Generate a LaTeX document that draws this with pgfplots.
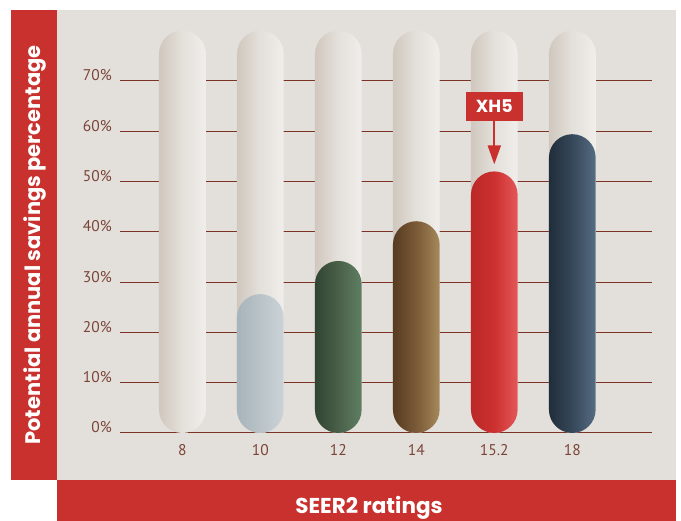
\documentclass[border=0pt]{standalone}
\usepackage{fontspec}
\setmainfont{PT Sans}
\newfontfamily\titlefont{Poppins}
\usepackage{pgfplots}
\pgfplotsset{compat=1.18}
\usetikzlibrary{arrows.meta}
\definecolor{bandred}{HTML}{C8312D}
\definecolor{bggray}{HTML}{E3E0DC}
\definecolor{gridbrown}{HTML}{7A3324}
\definecolor{tickbrown}{HTML}{7B4437}
\definecolor{pillL}{HTML}{D0C8BE}
\definecolor{pillM}{HTML}{E4E0DB}
\definecolor{pillR}{HTML}{F0EEEB}
\definecolor{blueL}{HTML}{A8B4BB}
\definecolor{blueM}{HTML}{B9C3C8}
\definecolor{blueR}{HTML}{CBD3D7}
\definecolor{greenL}{HTML}{314433}
\definecolor{greenM}{HTML}{4A6048}
\definecolor{greenR}{HTML}{5F7F63}
\definecolor{brownL}{HTML}{573C21}
\definecolor{brownM}{HTML}{7A5A37}
\definecolor{brownR}{HTML}{A6895B}
\definecolor{redL}{HTML}{BB2828}
\definecolor{redM}{HTML}{CD3030}
\definecolor{redR}{HTML}{E45858}
\definecolor{navyL}{HTML}{202D3A}
\definecolor{navyM}{HTML}{36485A}
\definecolor{navyR}{HTML}{566C82}
\pgfplotsset{
  pill/.style n args={3}{ybar, bar width=46.7bp, bar shift=0pt, draw=none,
    left color=#1, right color=#3, middle color=#2, rounded corners=23.35bp},
  bgpill/.style={pill={pillL}{pillM}{pillR}},
}
\begin{document}
\begin{tikzpicture}[x=1bp,y=1bp]
\fill[white] (0,0) rectangle (681,521);
\fill[bggray] (57,41) rectangle (676,511);
\fill[bandred] (11,41) rectangle (57,511);
\fill[bandred] (57,0) rectangle (676,41);
\node[anchor=base, rotate=90, text=white, inner sep=0pt,
      font=\titlefont\bfseries\fontsize{21bp}{24bp}\selectfont]
      at (40.5,276) {Potential annual savings percentage};
\node[anchor=base, text=white, inner sep=0pt,
      font=\titlefont\bfseries\fontsize{21.5bp}{24bp}\selectfont]
      at (369,7.5) {SEER2 ratings};
\begin{axis}[
  at={(120bp,88bp)}, anchor=south west,
  scale only axis, width=532bp, height=412.5bp,
  xmin=-0.799, xmax=6.022, ymin=0, ymax=82,
  axis line style={draw=none}, major tick length=0pt,
  xtick={0,1,2,3,4,5}, xticklabels={8,10,12,14,15.2,18},
  ytick={0,10,20,30,40,50,60,70},
  yticklabels={0\%,10\%,20\%,30\%,40\%,50\%,60\%,70\%},
  ymajorgrids, grid style={gridbrown, line width=1bp},
  ticklabel style={font=\fontsize{15.5bp}{17bp}\selectfont, text=tickbrown},
  xticklabel style={anchor=base, yshift=-23bp},
  yticklabel style={anchor=base east, inner sep=0pt, xshift=-8bp},
  clip=false,
]
% background pills (capacity tubes)
\addplot[bgpill] coordinates {(0,80)};
\addplot[bgpill] coordinates {(1,80)};
\addplot[bgpill] coordinates {(2,80)};
\addplot[bgpill] coordinates {(3,80)};
\addplot[bgpill] coordinates {(4,80)};
\addplot[bgpill] coordinates {(5,80)};
% savings bars
\addplot[pill={blueL}{blueM}{blueR}]   coordinates {(1,27.6)};
\addplot[pill={greenL}{greenM}{greenR}] coordinates {(2,34.2)};
\addplot[pill={brownL}{brownM}{brownR}] coordinates {(3,42.1)};
\addplot[pill={redL}{redM}{redR}]       coordinates {(4,52.0)};
\addplot[pill={navyL}{navyM}{navyR}]    coordinates {(5,59.4)};
% XH5 annotation
\node[fill=bandred, text=white, minimum width=57bp, minimum height=29bp,
      inner sep=0pt, font=\titlefont\bfseries\fontsize{17.5bp}{19bp}\selectfont]
      at (axis cs:4,64.9) {XH5};
\draw[bandred, line width=2bp, -{Triangle[length=19bp,width=13bp]}]
      (axis cs:4,62) -- (axis cs:4,53.4);
\end{axis}
\pgfresetboundingbox
\useasboundingbox (0,0) rectangle (681,521);
\end{tikzpicture}
\end{document}
